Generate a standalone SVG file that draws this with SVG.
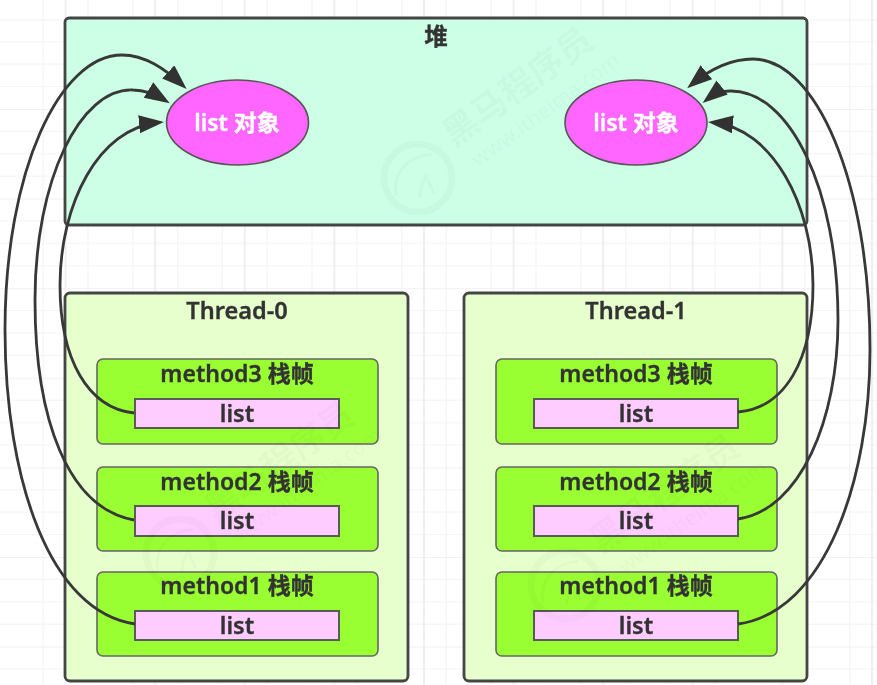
<svg xmlns="http://www.w3.org/2000/svg" width="877" height="685" viewBox="0 0 877 685">
<style>
text{font-family:"Noto Sans","Noto Sans CJK SC",sans-serif;font-weight:600;text-anchor:middle;fill:#333;stroke:#333;stroke-width:.35}
.t{font-size:23.500px}
.m{font-size:23px}
.l{font-size:23.500px}
.o{font-size:23px;fill:#fff;stroke:#fff}
.heap{fill:#ccffe6;stroke:#444;stroke-width:2.8}
.thread{fill:#e6ffcc;stroke:#444;stroke-width:2.8}
.frame{fill:#99ff33;stroke:#666;stroke-width:1.6}
.var{fill:#ffccff;stroke:#5a5a5a;stroke-width:2}
.obj{fill:#ff66ff;stroke:#555;stroke-width:1.6}
.c{fill:none;stroke:#383838;stroke-width:2.8;marker-end:url(#arrow)}
.wm text{fill:#000;text-anchor:start;font-weight:700;stroke:none}
</style>
<defs>
<pattern id="grid" patternUnits="userSpaceOnUse" x="20.8" y="19.4" width="89.6" height="89.6">
<path d="M0 22.4H89.6M0 44.8H89.6M0 67.2H89.6M22.4 0V89.6M44.8 0V89.6M67.2 0V89.6" stroke="#f4f4f4" stroke-width="1.2" fill="none"/>
<path d="M0 0H89.6" stroke="#ededed" stroke-width="1.6" fill="none"/>
<path d="M44.8 0V89.6" stroke="#ededed" stroke-width="1.6" fill="none"/>
</pattern>
<marker id="arrow" markerUnits="userSpaceOnUse" markerWidth="27" markerHeight="20" refX="20" refY="9" orient="auto">
<path d="M0 0L25 9L0 18Z" fill="#333" stroke="none"/>
</marker>
<filter id="soft" x="0" y="0" width="100%" height="100%"><feGaussianBlur stdDeviation="0.5"/></filter>
<g id="mark" class="wm">
<circle cx="0" cy="0" r="34" fill="none" stroke="#000" stroke-opacity="0.025" stroke-width="7"/>
<path d="M-22 18C-26 -8 -8 -22 14 -24M2 20C2 8 6 2 8 -2L16 16" fill="none" stroke="#000" stroke-opacity="0.025" stroke-width="3"/>
<g transform="translate(36,-30) rotate(-36)">
<text x="0" y="0" font-size="35" fill-opacity="0.022">黑马程序员</text>
<text x="8" y="30" font-size="21" fill-opacity="0.022" style="font-weight:400;stroke:none">www.itheima.com</text>
</g>
</g>
</defs>
<g filter="url(#soft)">
<rect width="877" height="685" fill="#fff"/>
<rect width="877" height="685" fill="url(#grid)"/>

<g id="heap">
<rect class="heap" x="65" y="18" width="742" height="207" rx="4"/>
<text class="t" x="436" y="45">堆</text>
</g>
<g id="heap-list-a">
<ellipse class="obj" cx="237.500" cy="122.500" rx="71" ry="42.500"/>
<text class="o" x="237" y="131">list 对象</text>
</g>
<g id="heap-list-b">
<ellipse class="obj" cx="636" cy="122.500" rx="71" ry="42.500"/>
<text class="o" x="636" y="131">list 对象</text>
</g>

<g id="thread-0">
<rect class="thread" x="65" y="293" width="343" height="388" rx="5"/>
<text class="t" x="237" y="318.500">Thread-0</text>
</g>
<g id="thread-1">
<rect class="thread" x="464" y="293" width="343" height="388" rx="5"/>
<text class="t" x="636" y="318.500">Thread-1</text>
</g>

<g id="t0-method3"><rect class="frame" x="97" y="359" width="281" height="85" rx="6"/><text class="m" x="237" y="382">method3 栈帧</text><rect class="var" x="135" y="399" width="204" height="29"/><text class="l" x="237" y="422">list</text></g>
<g id="t0-method2"><rect class="frame" x="97" y="467" width="281" height="84" rx="6"/><text class="m" x="237" y="489.500">method2 栈帧</text><rect class="var" x="135" y="506" width="204" height="30"/><text class="l" x="237" y="529">list</text></g>
<g id="t0-method1"><rect class="frame" x="97" y="572" width="281" height="84" rx="6"/><text class="m" x="237" y="593.500">method1 栈帧</text><rect class="var" x="135" y="611" width="204" height="29"/><text class="l" x="237" y="633.500">list</text></g>
<g id="t1-method3"><rect class="frame" x="496" y="359" width="281" height="85" rx="6"/><text class="m" x="636" y="382">method3 栈帧</text><rect class="var" x="534" y="399" width="204" height="29"/><text class="l" x="636" y="422">list</text></g>
<g id="t1-method2"><rect class="frame" x="496" y="467" width="281" height="84" rx="6"/><text class="m" x="636" y="489.500">method2 栈帧</text><rect class="var" x="534" y="506" width="204" height="30"/><text class="l" x="636" y="529">list</text></g>
<g id="t1-method1"><rect class="frame" x="496" y="572" width="281" height="84" rx="6"/><text class="m" x="636" y="593.500">method1 栈帧</text><rect class="var" x="534" y="611" width="204" height="29"/><text class="l" x="636" y="633.500">list</text></g>

<g id="connectors">
<path class="c" d="M134 413C88 408 60 360 60 285C60 205 98 128 159 122.500"/>
<path class="c" d="M134 520C68 508 35 420 35 300C35 180 80 88 133 90C143 90 155 94 165.500 100.500"/>
<path class="c" d="M135 624C50 612 5 480 5 330C5 170 60 55 122 55C145 55 165 69 183 85.500"/>
<path class="c" d="M738 412C785 408 813 360 813 285C813 205 772 128 713 122.500"/>
<path class="c" d="M738 519C800 510 838 420 838 320C838 190 790 90 730 91C722 91 714 94 706.500 100"/>
<path class="c" d="M738 624C825 612 870 480 870 350C870 180 815 59 753 59C730 59 709 70 691 85"/>
</g>

<g id="watermarks">
<use href="#mark" x="418" y="178"/>
<use href="#mark" x="180" y="553"/>
<use href="#mark" x="565" y="585"/>
</g>
</g>
</svg>
